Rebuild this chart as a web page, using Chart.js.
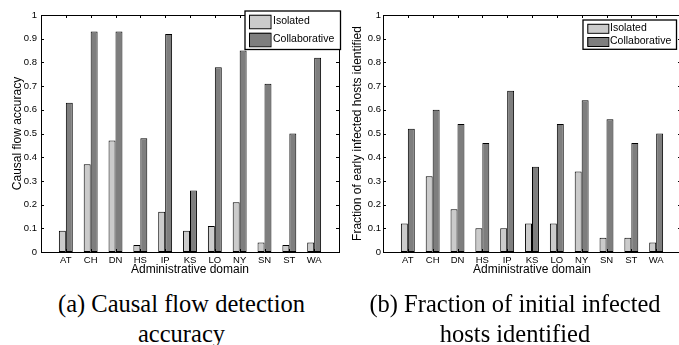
<!DOCTYPE html>
<html><head><meta charset="utf-8">
<script src="https://cdn.jsdelivr.net/npm/chart.js@4/dist/chart.umd.min.js"></script>
<style>
html,body{margin:0;padding:0;background:#fff;overflow:hidden;width:679px;height:345px;position:relative;}
.wrap{position:absolute;top:0;}
.cap{position:absolute;font-family:"Liberation Serif","Times New Roman",serif;font-size:24.5px;line-height:30px;text-align:center;color:#000;white-space:nowrap;width:360px;}
</style></head><body>
<div class="wrap" style="left:0;width:342px;height:280px"><canvas id="c1" width="342" height="280" style="width:342px;height:280px"></canvas></div>
<div class="wrap" style="left:340px;width:344px;height:280px"><canvas id="c2" width="344" height="280" style="width:344px;height:280px"></canvas></div>
<div class="cap" style="left:1.5px;top:288.5px">(a) Causal flow detection<br>accuracy</div>
<div class="cap" style="left:335px;top:288.5px">(b) Fraction of initial infected<br>hosts identified</div>
<script>
const categories = ['AT','CH','DN','HS','IP','KS','LO','NY','SN','ST','WA'];
const seriesNames = ['Isolated','Collaborative'];
const accIsolated      = [0.09,0.37,0.47,0.03,0.17,0.09,0.11,0.21,0.04,0.03,0.04];
const accCollaborative = [0.63,0.93,0.93,0.48,0.92,0.26,0.78,0.85,0.71,0.50,0.82];
const fracIsolated      = [0.12,0.32,0.18,0.10,0.10,0.12,0.12,0.34,0.06,0.06,0.04];
const fracCollaborative = [0.52,0.60,0.54,0.46,0.68,0.36,0.54,0.64,0.56,0.46,0.50];
const yTickLabels = ['0','0.1','0.2','0.3','0.4','0.5','0.6','0.7','0.8','0.9','1'];
const xTitle = 'Administrative domain';
const yTitleA = 'Causal flow accuracy';
const yTitleB = 'Fraction of early infected hosts identified';

Chart.defaults.font.family = '"Liberation Sans", Arial, Helvetica, sans-serif';
Chart.defaults.color = '#000';

const COLORS = ['#cbcbcb','#7e7e7e'];
// axis runs from an empty slot before the first domain to one after the last
const axisLabels = [''].concat(categories, ['']);
const pad = arr => [null].concat(arr, [null]);

const framePlugin = {
  id: 'frame',
  afterDatasetsDraw(chart, args, L) {
    const {ctx, chartArea: a, scales: {x, y}} = chart;
    ctx.save();
    ctx.strokeStyle = '#000';
    ctx.lineWidth = 1;
    ctx.beginPath();
    categories.forEach((c, i) => {
      const px = Math.round(x.getPixelForValue(i + 1)) + 0.5;
      ctx.moveTo(px, a.top); ctx.lineTo(px, a.top + 3);
      ctx.moveTo(px, a.bottom); ctx.lineTo(px, a.bottom - 3);
    });
    y.ticks.forEach(t => {
      const py = Math.round(y.getPixelForValue(t.value)) + 0.5;
      ctx.moveTo(a.left, py); ctx.lineTo(a.left + 3, py);
      ctx.moveTo(a.right, py); ctx.lineTo(a.right - 3, py);
    });
    ctx.stroke();
    ctx.strokeRect(Math.round(a.left) + 0.5, Math.round(a.top) + 0.5,
                   Math.round(a.right) - Math.round(a.left), Math.round(a.bottom) - Math.round(a.top));
    // legend box
    ctx.fillStyle = '#fff';
    ctx.fillRect(L.x, L.y, L.w, L.h);
    ctx.lineWidth = 1.3;
    ctx.strokeRect(L.x, L.y, L.w, L.h);
    ctx.lineWidth = 1;
    ctx.font = L.font + 'px "Liberation Sans", Arial, sans-serif';
    ctx.textBaseline = 'middle';
    chart.data.datasets.forEach((ds, i) => {
      const cy = L.rows[i];
      ctx.fillStyle = ds.backgroundColor;
      ctx.fillRect(L.swX, cy - L.swH / 2, L.swW, L.swH);
      ctx.strokeRect(L.swX + 0.5, cy - L.swH / 2 + 0.5, L.swW, L.swH);
      ctx.fillStyle = '#000';
      ctx.fillText(ds.label, L.textX, cy);
    });
    ctx.restore();
  }
};

function makeChart(id, iso, col, yTitle, yWidth, tickPad, legend) {
  return new Chart(document.getElementById(id), {
    type: 'bar',
    data: {
      labels: axisLabels,
      datasets: [
        {label: seriesNames[0], data: pad(iso), backgroundColor: COLORS[0], borderColor: '#000', borderWidth: 1, borderSkipped: false, inflateAmount: 0},
        {label: seriesNames[1], data: pad(col), backgroundColor: COLORS[1], borderColor: '#000', borderWidth: 1, borderSkipped: false, inflateAmount: 0}
      ]
    },
    options: {
      responsive: false,
      animation: false,
      events: [],
      categoryPercentage: 0.56,
      barPercentage: 1.0,
      layout: {padding: {left: 0, right: 1, top: 15, bottom: 3}},
      plugins: {legend: {display: false}, tooltip: {enabled: false}, frame: legend},
      scales: {
        x: {
          type: 'category', offset: false,
          grid: {display: false, drawTicks: false, tickLength: 0, offset: false}, border: {display: false},
          ticks: {autoSkip: false, maxRotation: 0, minRotation: 0, padding: 3, font: {size: 9.5}},
          title: {display: true, text: xTitle, font: {size: 12}, padding: {top: 0, bottom: 0}},
          afterFit: s => { s.height = 25; }
        },
        y: {
          min: 0, max: 1,
          grid: {display: false, drawTicks: false, tickLength: 0}, border: {display: false},
          ticks: {stepSize: 0.1, padding: tickPad, font: {size: 9.5},
                  callback: (v, i) => yTickLabels[i]},
          title: {display: true, text: yTitle, font: {size: 12}, padding: {top: 10, bottom: 0}},
          afterFit: s => { s.width = yWidth; }
        }
      }
    },
    plugins: [framePlugin]
  });
}

makeChart('c1', accIsolated, accCollaborative, yTitleA, 41, 4,
  {x: 245, y: 11, w: 95.5, h: 38.5, rows: [21.5, 39.5], swX: 249, swW: 21.5, swH: 13.5, textX: 273, font: 10.5});
makeChart('c2', fracIsolated, fracCollaborative, yTitleB, 43, 2,
  {x: 243, y: 20, w: 93.5, h: 29.3, rows: [28.3, 41.5], swX: 247.3, swW: 21, swH: 9, textX: 270, font: 10.5});
</script>
</body></html>
